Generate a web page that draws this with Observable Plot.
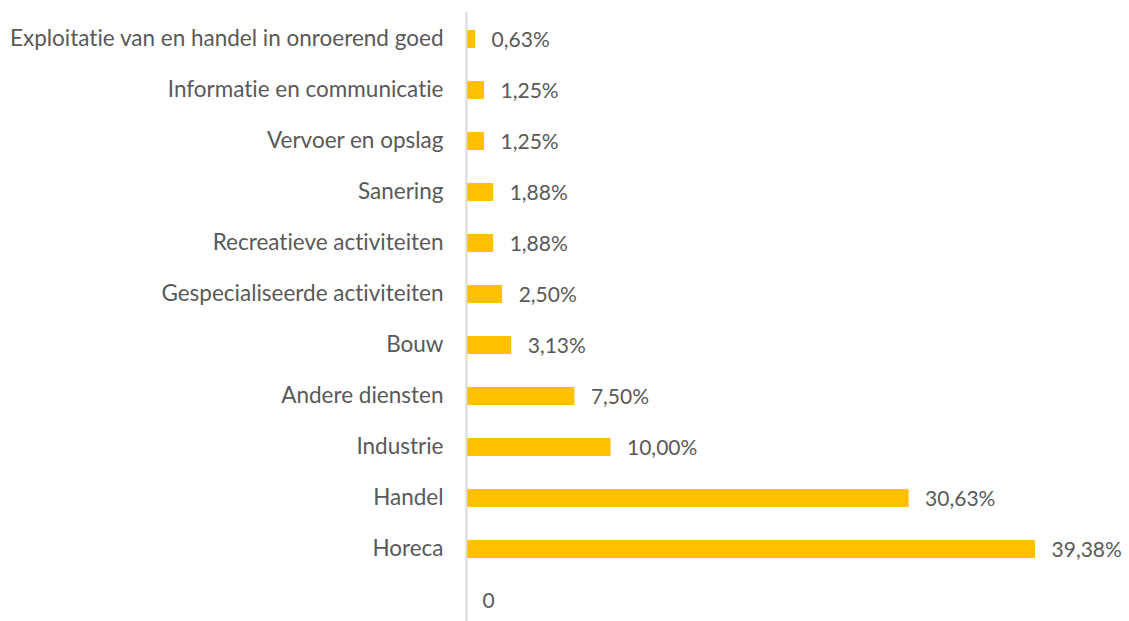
<!DOCTYPE html>
<html>
<head>
<meta charset="utf-8">
<script src="https://cdn.jsdelivr.net/npm/d3@7"></script>
<script src="https://cdn.jsdelivr.net/npm/@observablehq/plot@0.6"></script>
<style>
  html, body { margin: 0; padding: 0; background: #fff; }
  #chart svg { display: block; font-variant-ligatures: none; }
  #chart svg text { font-variant-ligatures: none; }
</style>
</head>
<body>
<div id="chart"></div>
<script>
const categories = [
  "Exploitatie van en handel in onroerend goed",
  "Informatie en communicatie",
  "Vervoer en opslag",
  "Sanering",
  "Recreatieve activiteiten",
  "Gespecialiseerde activiteiten",
  "Bouw",
  "Andere diensten",
  "Industrie",
  "Handel",
  "Horeca",
  ""
];
const values = [0.63, 1.25, 1.25, 1.88, 1.88, 2.50, 3.13, 7.50, 10.00, 30.63, 39.38, 0];
const labels = ["0,63%", "1,25%", "1,25%", "1,88%", "1,88%", "2,50%", "3,13%", "7,50%", "10,00%", "30,63%", "39,38%", "0"];

const data = categories.map((c, i) => ({cat: c, value: values[i], label: labels[i]}));

const x0 = 466, pxPer = 14.45;
const step = (601 - 38) / 11;

const chart = Plot.plot({
  width: 1129,
  height: 621,
  marginLeft: 466,
  marginRight: 0,
  marginTop: 12,
  marginBottom: 0,
  style: {fontFamily: "Lato, sans-serif", fontSize: "20px", color: "#595959", background: "#fff"},
  x: {domain: [0, 39.38], range: [x0, x0 + pxPer * 39.38], axis: null},
  y: {domain: categories, range: [38 - step / 2, 38 - step / 2 + step * 12], paddingInner: 0.65, paddingOuter: 0.325, label: null},
  marks: [
    Plot.axisY({tickSize: 0, tickPadding: 23, fontSize: 22.5, fill: "#595959", label: null, dy: -1}),
    Plot.barX(data.filter(d => d.value > 0), {x: "value", y: "cat", fill: "#FFC000"}),
    Plot.text(data, {x: "value", y: "cat", text: "label", dx: 16, dy: 1, textAnchor: "start", fill: "#595959", fontSize: 21}),
    Plot.ruleX([0], {stroke: "#d9d9d9", strokeWidth: 2})
  ]
});
document.getElementById("chart").appendChild(chart);
</script>
</body>
</html>
